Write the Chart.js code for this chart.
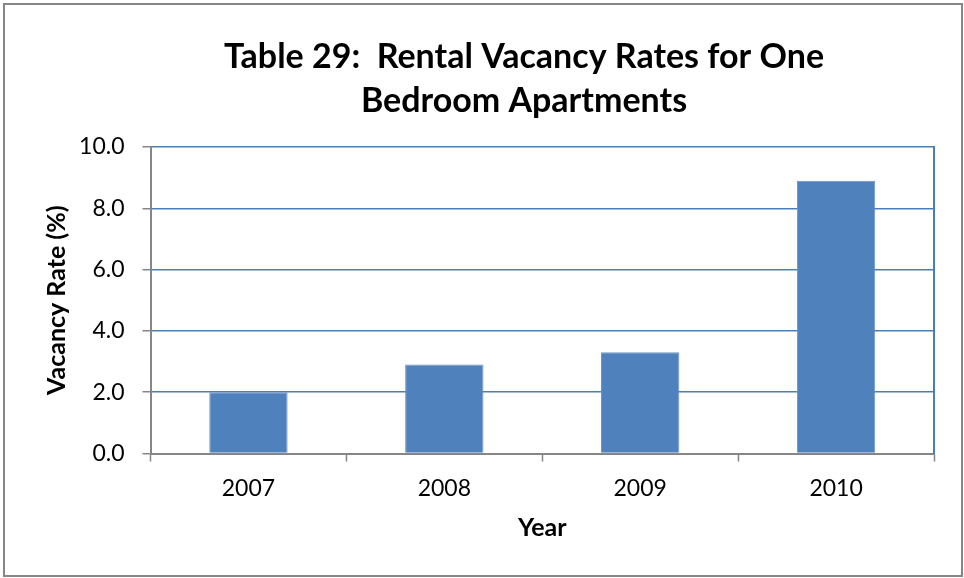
<!DOCTYPE html>
<html>
<head>
<meta charset="utf-8">
<script src="https://cdn.jsdelivr.net/npm/chart.js@4/dist/chart.umd.min.js"></script>
<style>
  html, body { margin: 0; padding: 0; background: #ffffff; }
  #wrap { position: relative; width: 964px; height: 578px; }
  canvas { display: block; }
</style>
</head>
<body>
<div id="wrap"><canvas id="c" width="964" height="578"></canvas></div>
<script>
const chartTitle = ["Table 29:  Rental Vacancy Rates for One", "Bedroom Apartments"];
const categories = ["2007", "2008", "2009", "2010"];
const vacancyRates = [2.0, 2.9, 3.3, 8.9];
const yAxisTitle = "Vacancy Rate (%)";
const xAxisTitle = "Year";

const FONT = "Lato, 'Open Sans', 'Noto Sans', sans-serif";
const GRID_BLUE = "#4a7ebb";
const AXIS_GREY = "#868686";

const frame = {
  id: "frame",
  beforeDraw(chart) {
    const ctx = chart.ctx;
    ctx.save();
    ctx.fillStyle = "#ffffff";
    ctx.fillRect(0, 0, chart.width, chart.height);
    ctx.strokeStyle = "#868686";
    ctx.lineWidth = 2;
    ctx.strokeRect(4, 4, 958, 572);
    ctx.restore();
  }
};

new Chart(document.getElementById("c"), {
  type: "bar",
  data: {
    labels: categories,
    datasets: [{
      label: "Vacancy Rate",
      data: vacancyRates,
      backgroundColor: "#4f81bd",
      borderColor: "#6c93c6",
      borderWidth: 1,
      categoryPercentage: 1.0,
      barPercentage: 0.4
    }]
  },
  options: {
    responsive: false,
    animation: false,
    devicePixelRatio: 1,
    layout: { padding: { left: 70, right: -14, top: 0, bottom: 35 } },
    plugins: {
      legend: { display: false },
      tooltip: { enabled: false },
      title: {
        display: true,
        text: chartTitle,
        color: "#000000",
        font: { family: FONT, size: 34, weight: "bold", lineHeight: 1.294 },
        padding: { top: 35, bottom: 24 }
      }
    },
    scales: {
      x: {
        offset: true,
        grid: {
          offset: true,
          drawOnChartArea: false,
          drawTicks: true,
          tickLength: 8,
          tickColor: AXIS_GREY,
          tickWidth: 1.5
        },
        border: { color: AXIS_GREY, width: 2 },
        ticks: { color: "#000000", font: { family: FONT, size: 23 }, padding: 13 },
        title: {
          display: true,
          text: xAxisTitle,
          color: "#000000",
          font: { family: FONT, size: 25, weight: "bold", lineHeight: 1.2 },
          padding: { top: 0, bottom: 0 }
        },
        afterFit(scale) { scale.height = 89.5; }
      },
      y: {
        min: 0,
        max: 10,
        ticks: {
          stepSize: 2,
          color: "#000000",
          font: { family: FONT, size: 23 },
          padding: 18,
          callback: (v) => Number(v).toFixed(1)
        },
        grid: {
          color: GRID_BLUE,
          lineWidth: 1.5,
          tickColor: AXIS_GREY,
          tickLength: 8,
          tickWidth: 1.5
        },
        border: { color: AXIS_GREY, width: 2 },
        title: {
          display: true,
          text: yAxisTitle,
          color: "#000000",
          font: { family: FONT, size: 25, weight: "bold", lineHeight: 1.2 },
          padding: { top: -28, bottom: 0 }
        },
        afterFit(scale) { scale.width = 80.5; }
      },
      y2: {
        position: "right",
        min: 0,
        max: 10,
        grid: { drawOnChartArea: false, drawTicks: false },
        ticks: { display: false },
        border: { color: GRID_BLUE, width: 2 },
        afterFit(scale) { scale.width = 44; }
      }
    }
  },
  plugins: [frame]
});
</script>
</body>
</html>
